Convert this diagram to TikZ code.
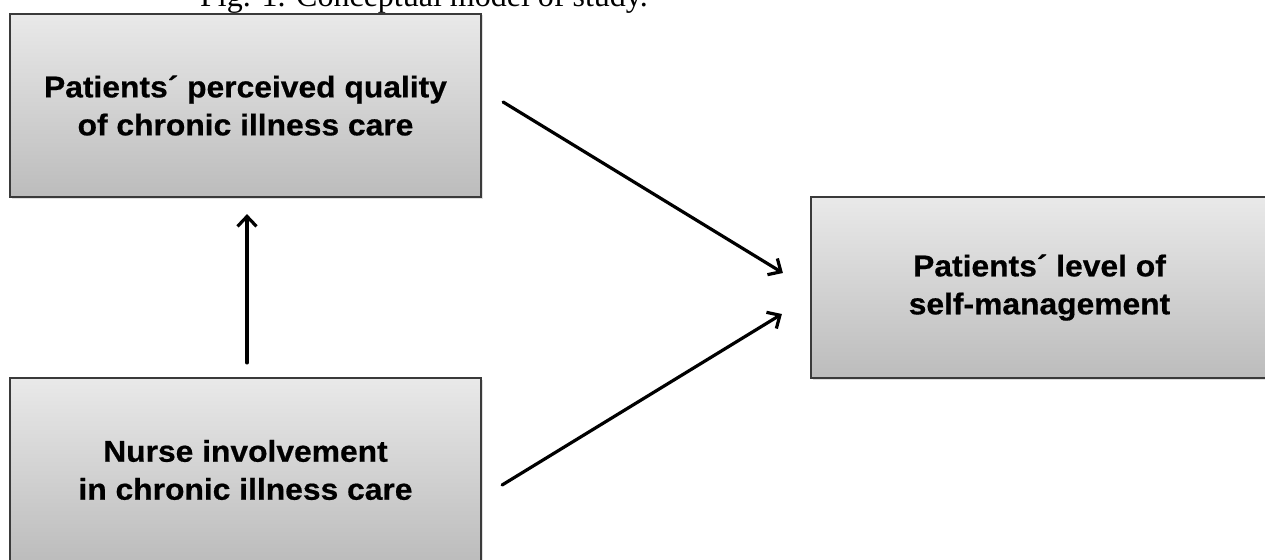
\documentclass[tikz,border=0pt]{standalone}
\usepackage{fontspec}
\setmainfont{Liberation Serif}
\newfontfamily\boxfont[FakeStretch=1.06, BoldFeatures={FakeBold=0.6}]{Liberation Sans}
\usetikzlibrary{arrows.meta,calc,shadows}
\definecolor{boxedge}{HTML}{3A3A3A}
\definecolor{boxtop}{HTML}{E9E9E9}
\definecolor{boxbot}{HTML}{BCBCBC}
\tikzset{
  conceptbox/.style={rectangle, draw=boxedge, line width=2.2pt,
    top color=boxtop, bottom color=boxbot, inner sep=0pt,
    align=center, text=black,
    font=\boxfont\bfseries\fontsize{30}{38}\selectfont,
    drop shadow={opacity=0.25, shadow xshift=1.5pt, shadow yshift=-1.5pt}},
  linkarrow/.style={line width=3.2pt, draw=black, line cap=round,
    -{Straight Barb[length=10pt,width=19pt,line width=3.2pt]}},
  titletext/.style={inner sep=0pt, anchor=base west,
    font=\fontsize{32}{38}\selectfont}
}
\begin{document}
\begin{tikzpicture}[x=1pt,y=-1pt]
\useasboundingbox (0,0) rectangle (1265,559);
\node[titletext] (title) at (200,7) {Fig. 1. Conceptual model of study.};
\node[conceptbox, minimum width=471pt, minimum height=183pt] (q) at (245.5,105.5)
  {Patients´ perceived quality\\of chronic illness care};
\node[conceptbox, minimum width=471pt, minimum height=184pt] (n) at (245.5,470)
  {Nurse involvement\\in chronic illness care};
\node[conceptbox, minimum width=457pt, minimum height=181pt] (s) at (1039.5,287.5)
  {Patients´ level of\\self-management};
\draw[linkarrow] ($(n.north)+(1.5,-14)$) -- ($(q.south)+(1.5,16)$);
\draw[linkarrow] ($(q.east)+(21,-3.5)$) -- ($(s.west)+(-27,-14.5)$);
\draw[linkarrow] ($(n.east)+(20,15)$) -- ($(s.west)+(-28,26.5)$);
\end{tikzpicture}
\end{document}
